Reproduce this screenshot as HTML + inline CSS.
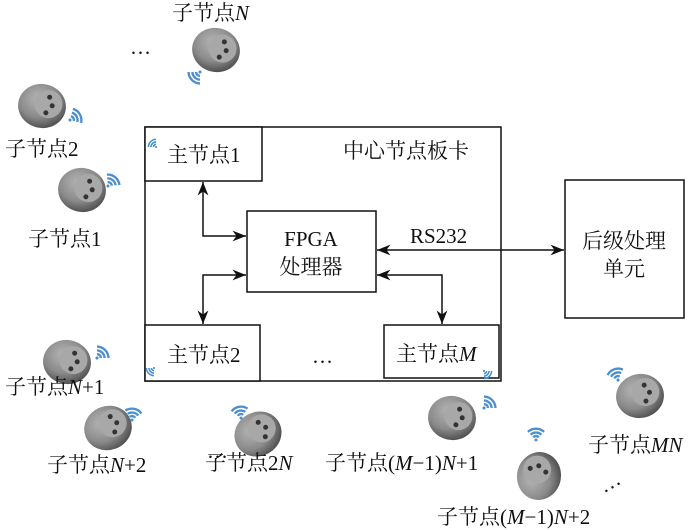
<!DOCTYPE html>
<html><head><meta charset="utf-8"><style>body{margin:0;background:#fff}svg{display:block}text{font-family:"Liberation Serif","Noto Serif CJK SC",serif;font-size:21px;fill:#111}</style></head><body>
<svg width="700" height="530" viewBox="0 0 700 530" xmlns="http://www.w3.org/2000/svg">
<defs>
<radialGradient id="g" cx="0.4" cy="0.35" r="0.7"><stop offset="0" stop-color="#b5b5b5"/><stop offset="0.6" stop-color="#8a8a8a"/><stop offset="1" stop-color="#4a4a4a"/></radialGradient>
<marker id="a" viewBox="0 0 10 10" refX="10" refY="5" markerWidth="9" markerHeight="9" orient="auto-start-reverse"><path d="M0,1 L10,5 L0,9 L3,5z" fill="#111"/></marker>
<g id="s"><ellipse cx="0" cy="0" rx="24" ry="22" fill="url(#g)"/><ellipse cx="6" cy="-3" rx="14" ry="14" fill="#a8a8a8"/><circle cx="6" cy="-10" r="2.5" fill="#333"/><circle cx="10" cy="-2" r="2.5" fill="#333"/><circle cx="5" cy="6" r="2.5" fill="#333"/></g>
<g id="w" fill="none" stroke="#4a90d0" stroke-width="2.6"><path d="M-3,-3 a4,4 0 0 1 6,0"/><path d="M-6,-6 a9,9 0 0 1 12,0"/><path d="M-9,-9 a13,13 0 0 1 18,0"/><circle cx="0" cy="0" r="1.7" fill="#4a90d0" stroke="none"/></g>
</defs>
<g stroke="#111" stroke-width="1.5" fill="none">
<rect x="145" y="127" width="356" height="254"/>
<rect x="145" y="127" width="117" height="54" fill="#fff"/>
<rect x="247" y="211" width="129" height="81" fill="#fff"/>
<rect x="145" y="325" width="115" height="56" fill="#fff"/>
<rect x="384" y="325" width="115" height="53" fill="#fff"/>
<rect x="565" y="180" width="119" height="138" fill="#fff"/>
<polyline points="203,182 203,236 246,236" marker-start="url(#a)" marker-end="url(#a)"/>
<polyline points="246,275 203,275 203,324" marker-start="url(#a)" marker-end="url(#a)"/>
<polyline points="377,275 442,275 442,324" marker-start="url(#a)" marker-end="url(#a)"/>
<line x1="377" y1="250" x2="564" y2="250" marker-start="url(#a)" marker-end="url(#a)"/>
</g>
<text x="167" y="162">主节点1</text>
<text x="343" y="158">中心节点板卡</text>
<text x="311" y="246" text-anchor="middle">FPGA</text>
<text x="311" y="274" text-anchor="middle">处理器</text>
<text x="410" y="243">RS232</text>
<text x="624" y="248" text-anchor="middle">后级处理</text>
<text x="624" y="276" text-anchor="middle">单元</text>
<text x="167" y="362">主节点2</text>
<text x="312" y="363">…</text>
<text x="396" y="361">主节点<tspan font-style="italic">M</tspan></text>
<use href="#w" transform="translate(156,147) rotate(-45) scale(0.6)"/>
<use href="#w" transform="translate(154,368) rotate(-135) scale(0.6)"/>
<use href="#w" transform="translate(484,371) rotate(135) scale(0.6)"/>

<use href="#s" transform="translate(216,50) rotate(15)"/><use href="#w" transform="translate(200,72) rotate(-135) scale(0.9)"/>
<text x="172" y="20">子节点<tspan font-style="italic">N</tspan></text><text x="130" y="54">…</text>
<use href="#s" transform="translate(42,106) rotate(10)"/><use href="#w" transform="translate(70,120) rotate(60) scale(0.9)"/>
<text x="5" y="156">子节点2</text>
<use href="#s" transform="translate(82,190) rotate(10)"/><use href="#w" transform="translate(108,186) rotate(40) scale(0.9)"/>
<text x="28" y="246">子节点1</text>
<use href="#s" transform="translate(67,362) rotate(10)"/><use href="#w" transform="translate(97,358) rotate(45) scale(0.9)"/>
<text x="5" y="394">子节点<tspan font-style="italic">N</tspan>+1</text>
<use href="#s" transform="translate(108,428) rotate(-20)"/><use href="#w" transform="translate(132,420) rotate(10) scale(0.9)"/>
<text x="47" y="472">子节点<tspan font-style="italic">N</tspan>+2</text>
<text x="207" y="458">…</text>
<use href="#s" transform="translate(258,434) rotate(-30)"/><use href="#w" transform="translate(241,418) rotate(-10) scale(0.9)"/>
<text x="205" y="470">子节点2<tspan font-style="italic">N</tspan></text>
<use href="#s" transform="translate(452,418) rotate(10)"/><use href="#w" transform="translate(484,408) rotate(45) scale(0.9)"/>
<text x="325" y="470">子节点(<tspan font-style="italic">M</tspan>−1)<tspan font-style="italic">N</tspan>+1</text>
<use href="#s" transform="translate(539,476) rotate(-80)"/><use href="#w" transform="translate(536,440) scale(0.9)"/>
<text x="437" y="524">子节点(<tspan font-style="italic">M</tspan>−1)<tspan font-style="italic">N</tspan>+2</text>
<use href="#s" transform="translate(640,396) rotate(-10)"/><use href="#w" transform="translate(618,380) rotate(-20) scale(0.9)"/>
<text x="588" y="452">子节点<tspan font-style="italic">MN</tspan></text>
<text x="600" y="489" transform="rotate(-30 610 484)">…</text>
</svg>
</body></html>
